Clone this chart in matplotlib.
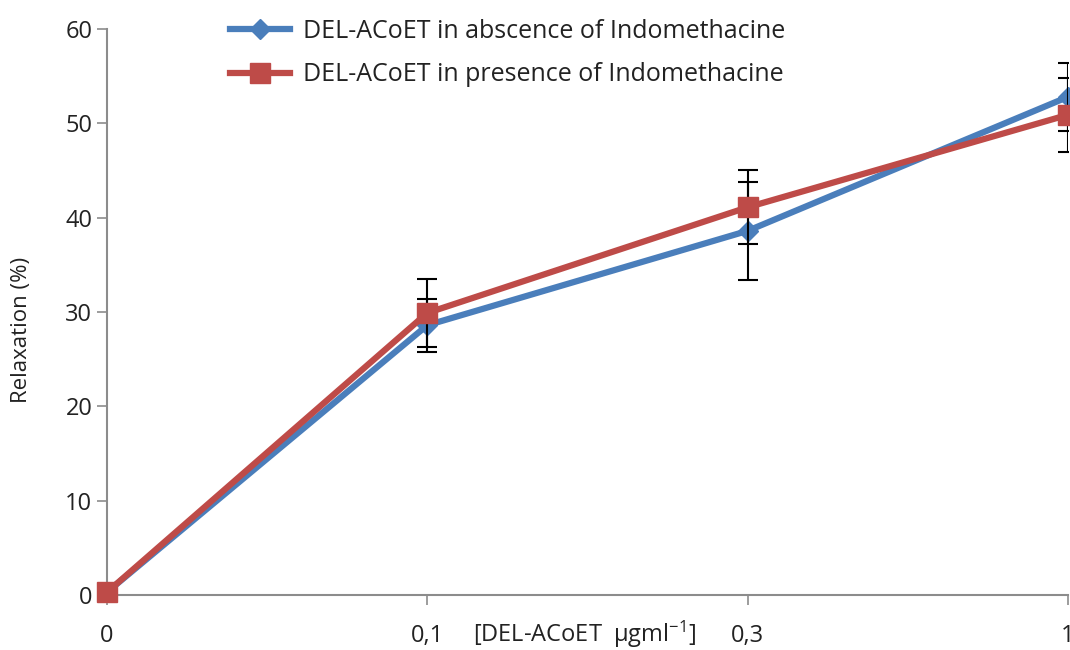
import matplotlib
matplotlib.use('Agg')
import matplotlib.pyplot as plt
from matplotlib.lines import Line2D
import numpy as np

plt.rcParams['font.family'] = ['Open Sans', 'DejaVu Sans']

# Concentrations (category labels) and relaxation values (%)
conc_labels = ['0', '0,1', '0,3', '1']
absence = [0.3, 28.6, 38.6, 52.8]
absence_err = [0.0, 2.8, 5.2, 3.6]
presence = [0.3, 29.9, 41.1, 50.9]
presence_err = [0.0, 3.6, 3.9, 3.9]

lab_abs = 'DEL-ACoET in abscence of Indomethacine'
lab_pres = 'DEL-ACoET in presence of Indomethacine'

blue = '#4a7ebb'
red = '#be4b48'
axcol = '#8c8c8c'
txtcol = '#222222'

xpos = np.arange(len(conc_labels))

fig = plt.figure(figsize=(10.7, 6.5), dpi=100)
ax = fig.add_axes([0.1, 0.0846, 0.898, 0.8708])

ax.errorbar(xpos, absence, yerr=absence_err, color=blue, lw=4.5,
            marker='D', ms=10, mfc=blue, mec=blue,
            ecolor='black', elinewidth=1.5, capsize=7, capthick=1.5,
            zorder=3)
ax.errorbar(xpos, presence, yerr=presence_err, color=red, lw=4.5,
            marker='s', ms=14, mfc=red, mec=red,
            ecolor='black', elinewidth=1.5, capsize=7, capthick=1.5,
            zorder=4)

ax.set_xlim(0, 3)
ax.set_ylim(0, 60)
ax.set_yticks(np.arange(0, 61, 10))
ax.set_xticks(xpos)
ax.set_xticklabels(conc_labels)

for s in ['top', 'right']:
    ax.spines[s].set_visible(False)
for s in ['left', 'bottom']:
    ax.spines[s].set_color(axcol)
    ax.spines[s].set_linewidth(1.5)
ax.tick_params(axis='both', colors=axcol, length=7, width=1.2,
               labelcolor=txtcol, labelsize=17)
ax.tick_params(axis='x', pad=14)

ax.set_ylabel('Relaxation (%)', fontsize=16, color=txtcol)
ax.yaxis.set_label_coords(-0.078, 0.468)
ax.text(0.497, -0.07, r'[DEL-ACoET  $\mathregular{\mu gml^{-1}}$]',
        transform=ax.transAxes, ha='center', va='center',
        fontsize=17, color=txtcol)

handles = [
    Line2D([], [], color=blue, lw=4.5, marker='D', ms=10, mfc=blue, mec=blue),
    Line2D([], [], color=red, lw=4.5, marker='s', ms=14, mfc=red, mec=red),
]
leg = ax.legend(handles, [lab_abs, lab_pres], loc='upper left',
                bbox_to_anchor=(0.105, 1.058), frameon=False,
                fontsize=18, handlelength=2.4, labelspacing=0.75,
                handletextpad=0.5)
for t in leg.get_texts():
    t.set_color(txtcol)

for c in ax.containers:
    c.lines[0].set_clip_on(False)

fig.savefig('out.png', dpi=100)
